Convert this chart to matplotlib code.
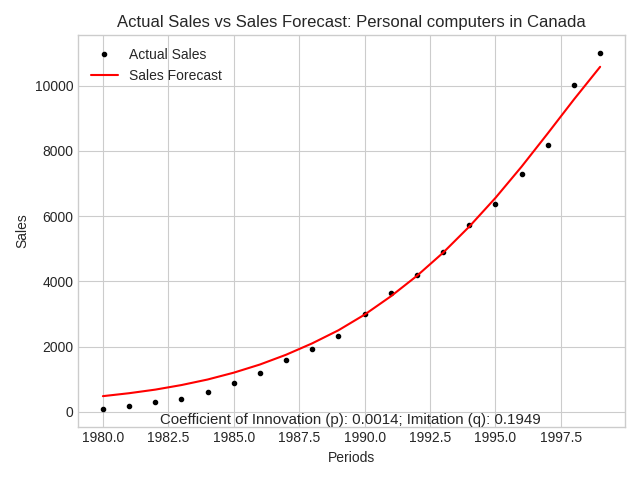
import numpy as np
import matplotlib.pyplot as plt

plt.style.use('seaborn-v0_8-whitegrid')

# yearly sales
years = [1980, 1981, 1982, 1983, 1984, 1985, 1986, 1987, 1988, 1989,
         1990, 1991, 1992, 1993, 1994, 1995, 1996, 1997, 1998, 1999]
actual_sales = [92, 185, 308, 400, 615, 892, 1200, 1600, 1938, 2338,
                2994, 3633, 4183, 4886, 5742, 6384, 7300, 8187, 10020, 11000]
forecast_sales = [480, 570, 680, 820, 990, 1200, 1450, 1750, 2100, 2500,
                  2980, 3540, 4170, 4880, 5680, 6560, 7520, 8540, 9580, 10580]
p_coef = 0.0014
q_coef = 0.1949

fig = plt.figure(figsize=(6.4, 4.8), dpi=100)
ax = fig.add_subplot(111)

ax.plot(years, actual_sales, 'k.', label='Actual Sales')
ax.plot(years, forecast_sales, 'r-', label='Sales Forecast')

ax.set_title('Actual Sales vs Sales Forecast: Personal computers in Canada')
ax.set_xlabel('Periods')
ax.set_ylabel('Sales')
ax.xaxis.set_major_formatter(plt.FormatStrFormatter('%.1f'))
ax.legend(loc='upper left')
ax.text(0.497, 0.0, 'Coefficient of Innovation (p): %.4f; Imitation (q): %.4f' % (p_coef, q_coef),
        transform=ax.transAxes, ha='center', va='bottom', fontsize=10.8)

fig.tight_layout()
fig.savefig('out.png')
